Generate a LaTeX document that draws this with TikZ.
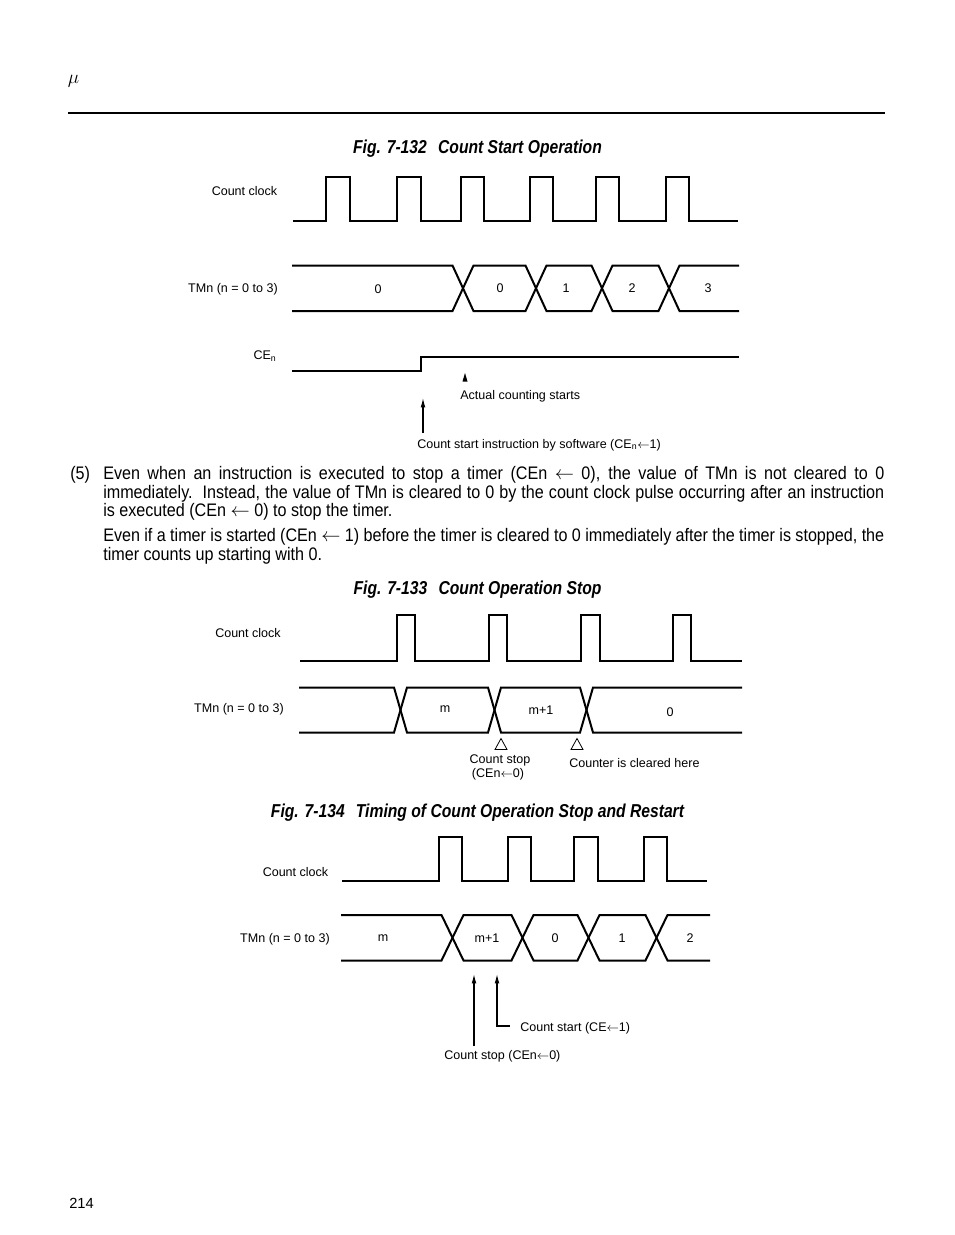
\documentclass[tikz,border=0pt]{standalone}
\usepackage{fontspec}
\setmainfont{Liberation Sans}
\newfontfamily\condfont[FakeStretch=0.89]{Liberation Sans}
\newfontfamily\titlefont[FakeStretch=0.84]{Liberation Sans}
\usetikzlibrary{arrows.meta}
\tikzset{
  wave/.style={line width=1.5pt, line join=miter},
  lbl/.style={font=\fontsize{9.4}{11}\selectfont, inner sep=0pt},
  figtitle/.style={font=\titlefont\bfseries\itshape\fontsize{14}{16}\selectfont, inner sep=0pt},
  para/.style={font=\condfont\fontsize{13.6}{15}\selectfont, inner sep=0pt, anchor=west},
  thinline/.style={line width=0.8pt},
  arr/.style={thinline, -{Latex[length=7pt,width=3.5pt]}},
  trimark/.style={line width=0.6pt}
}
\newcommand{\parline}[1]{\makebox[585.75pt][s]{#1}}
\begin{document}
\begin{tikzpicture}[x=0.75pt,y=-0.75pt]
\useasboundingbox (0,0) rectangle (954,1235);
\fill[white] (0,0) rectangle (954,1235);

% header
\node[inner sep=0pt, font=\fontsize{15}{17}\selectfont] (mu) at (73.5,81) {$\mu$};
\draw[line width=2pt] (68,113) -- (885,113);

% ===== Fig 7-132 =====
\node[figtitle] (t1) at (477.5,148.5) {Fig. 7-132\hspace{0.6em}Count Start Operation};
\node[lbl] (clk1) at (244.5,191) {Count clock};
\draw[wave] (293,221) \foreach \a/\b in {326/350,397/421,461/484,530/553,596/619,666/689} { -- (\a,221) -- (\a,176.5) -- (\b,176.5) -- (\b,221) } -- (738,221);

\node[lbl] (tm1) at (233,289) {TMn (n = 0 to 3)};
\draw[wave] (292,265.5) -- (452.5,265.5) -- (473.5,311) -- (525.5,311) -- (546.5,265.5) -- (591.5,265.5) -- (612.5,311) -- (658.5,311) -- (679.5,265.5) -- (739,265.5);
\draw[wave] (292,311) -- (452.5,311) -- (473.5,265.5) -- (525.5,265.5) -- (546.5,311) -- (591.5,311) -- (612.5,265.5) -- (658.5,265.5) -- (679.5,311) -- (739,311);
\node[lbl] (v10) at (378,289.5) {0};
\node[lbl] (v11) at (500,288) {0};
\node[lbl] (v12) at (566,288) {1};
\node[lbl] (v13) at (632,288) {2};
\node[lbl] (v14) at (708,288) {3};

\node[lbl] (ce1) at (265,356) {CE\textsubscript{n}};
\draw[wave] (292,371) -- (421,371) -- (421,356.5) -- (739,356.5);
\fill (465,373) -- (467.5,381.5) -- (462.5,381.5) -- cycle;
\node[lbl, anchor=west] (acs) at (460,396) {Actual counting starts};
\node[lbl, anchor=west] (csi) at (417,445) {Count start instruction by software (CE\textsubscript{n}$\leftarrow$1)};
\coordinate (a1b) at (423,433);
\coordinate (a1t) at (423,398);
\draw[arr] (a1b) -- (a1t);

% ===== paragraph =====
\node[para] (p5) at (70,474.5) {(5)};
\node[para] (pl1) at (103,474.5) {\parline{Even when an instruction is executed to stop a timer (CEn $\leftarrow$ 0), the value of TMn is not cleared to 0}};
\node[para] (pl2) at (103,493.5) {\parline{immediately.\ \ Instead, the value of TMn is cleared to 0 by the count clock pulse occurring after an instruction}};
\node[para] (pl3) at (103,512) {is executed (CEn $\leftarrow$ 0) to stop the timer.};
\node[para] (pl4) at (103,536.5) {\parline{Even if a timer is started (CEn $\leftarrow$ 1) before the timer is cleared to 0 immediately after the timer is stopped, the}};
\node[para] (pl5) at (103,555.5) {timer counts up starting with 0.};

% ===== Fig 7-133 =====
\node[figtitle] (t2) at (477.5,589.5) {Fig. 7-133\hspace{0.6em}Count Operation Stop};
\node[lbl] (clk2) at (248,633) {Count clock};
\draw[wave] (300,661) \foreach \a/\b in {397/415,489/507,581/600,673/691} { -- (\a,661) -- (\a,615) -- (\b,615) -- (\b,661) } -- (742,661);

\node[lbl] (tm2) at (239,709) {TMn (n = 0 to 3)};
\draw[wave] (299,687.5) -- (394,687.5) -- (407,732.5) -- (488,732.5) -- (501,687.5) -- (580,687.5) -- (593,732.5) -- (742,732.5);
\draw[wave] (299,732.5) -- (394,732.5) -- (407,687.5) -- (488,687.5) -- (501,732.5) -- (580,732.5) -- (593,687.5) -- (742,687.5);
\node[lbl] (v20) at (445,709) {m};
\node[lbl] (v21) at (541,710.5) {m+1};
\node[lbl] (v22) at (670,712) {0};

\draw[trimark] (501,738.5) -- (507,749.5) -- (495,749.5) -- cycle;
\draw[trimark] (577,738.5) -- (583,749.5) -- (571,749.5) -- cycle;
\node[lbl] (cs2) at (500,760) {Count stop};
\node[lbl] (cs2b) at (498,774) {(CEn$\leftarrow$0)};
\node[lbl, anchor=west] (clr) at (569,763) {Counter is cleared here};

% ===== Fig 7-134 =====
\node[figtitle] (t3) at (477.5,812.5) {Fig. 7-134\hspace{0.6em}Timing of Count Operation Stop and Restart};
\node[lbl] (clk3) at (295.5,872) {Count clock};
\draw[wave] (342,881) \foreach \a/\b in {439/462,508/531,574/598,644/667} { -- (\a,881) -- (\a,837) -- (\b,837) -- (\b,881) } -- (707,881);

\node[lbl] (tm3) at (285,939) {TMn (n = 0 to 3)};
\draw[wave] (341,915) -- (441.5,915) -- (463.5,960.5) -- (511.5,960.5) -- (533.5,915) -- (577.5,915) -- (599.5,960.5) -- (645.5,960.5) -- (667.5,915) -- (710,915);
\draw[wave] (341,960.5) -- (441.5,960.5) -- (463.5,915) -- (511.5,915) -- (533.5,960.5) -- (577.5,960.5) -- (599.5,915) -- (645.5,915) -- (667.5,960.5) -- (710,960.5);
\node[lbl] (v30) at (383,938.5) {m};
\node[lbl] (v31) at (487,938.5) {m+1};
\node[lbl] (v32) at (555,938) {0};
\node[lbl] (v33) at (622,938) {1};
\node[lbl] (v34) at (690,938) {2};

\node[lbl, anchor=west] (cst3) at (520,1028) {Count start (CE$\leftarrow$1)};
\node[lbl, anchor=west] (csp3) at (444,1056) {Count stop (CEn$\leftarrow$0)};
\coordinate (b1b) at (474,1046);
\coordinate (b1t) at (474,974);
\coordinate (b2e) at (510,1026);
\coordinate (b2c) at (497,1026);
\coordinate (b2t) at (497,974);
\draw[arr] (b1b) -- (b1t);
\draw[arr] (b2e) -- (b2c) -- (b2t);

% page number
\node[inner sep=0pt, font=\fontsize{11}{13}\selectfont] (pg) at (81.5,1203) {214};
\end{tikzpicture}
\end{document}
